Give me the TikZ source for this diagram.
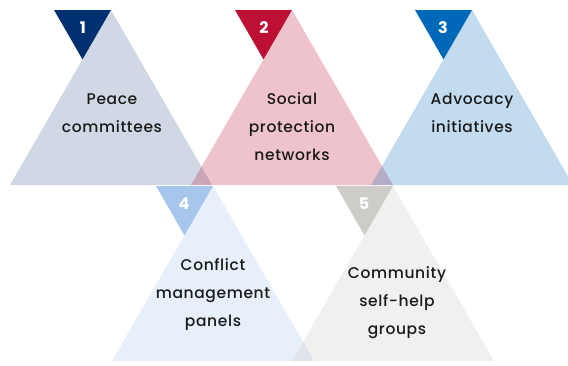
\documentclass[tikz,border=0pt]{standalone}
\usepackage{fontspec}
\setmainfont{Poppins}[UprightFont=* Medium,BoldFont=* Bold,LetterSpace=4]
\usepackage{tikz}
\usetikzlibrary{positioning}

\definecolor{navyone}{RGB}{0,48,112}
\definecolor{redtwo}{RGB}{190,15,52}
\definecolor{bluethree}{RGB}{0,104,184}
\definecolor{skyfour}{RGB}{167,198,236}
\definecolor{greyfive}{RGB}{205,204,201}
\definecolor{inktext}{RGB}{26,26,26}

\tikzset{
  bigtri/.style={fill opacity=#1},
  numtext/.style={text=white,font=\bfseries\fontsize{16}{16}\selectfont},
  itemtext/.style={text=inktext,align=center,font=\fontsize{15.5}{28}\selectfont}
}

\begin{document}
\begin{tikzpicture}[x=1pt,y=-1pt]
    \useasboundingbox (0,0) rectangle (568,365);

    % large pale triangles
    \fill [navyone,bigtri=0.19] (111,10) -- (10,185) -- (212,185) -- cycle;
    \fill [redtwo,bigtri=0.25] (292,10) -- (191,185) -- (393,185) -- cycle;
    \fill [bluethree,bigtri=0.24] (472,10) -- (371,185) -- (573,185) -- cycle;
    \fill [skyfour,bigtri=0.28] (213,186) -- (112,361) -- (314,361) -- cycle;
    \fill [greyfive,bigtri=0.3] (393,186) -- (292,361) -- (494,361) -- cycle;

    % small number tabs
    \fill [navyone] (54,10) -- (111,10) -- (82.5,59.4) -- cycle;
    \fill [redtwo] (235,10) -- (292,10) -- (263.5,59.4) -- cycle;
    \fill [bluethree] (415,10) -- (472,10) -- (443.5,59.4) -- cycle;
    \fill [skyfour] (156,186) -- (213,186) -- (184.5,235.4) -- cycle;
    \fill [greyfive] (336,186) -- (393,186) -- (364.5,235.4) -- cycle;

    \node [numtext] (n1) at (83,28) {1};
    \node [numtext] (n2) at (264,28) {2};
    \node [numtext] (n3) at (443,28) {3};
    \node [numtext] (n4) at (184,204) {4};
    \node [numtext] (n5) at (364,204) {5};

    \node [itemtext] (peace) at (112,113) {Peace\\committees};
    \node [itemtext] (social) at (292,127) {Social\\protection\\networks};
    \node [itemtext] (advocacy) at (472,113) {Advocacy\\initiatives};
    \node [itemtext] (conflict) at (213,295) {Conflict\\management\\panels};
    \node [itemtext] (community) at (397,303) {Community\\self-help\\groups};
\end{tikzpicture}
\end{document}
